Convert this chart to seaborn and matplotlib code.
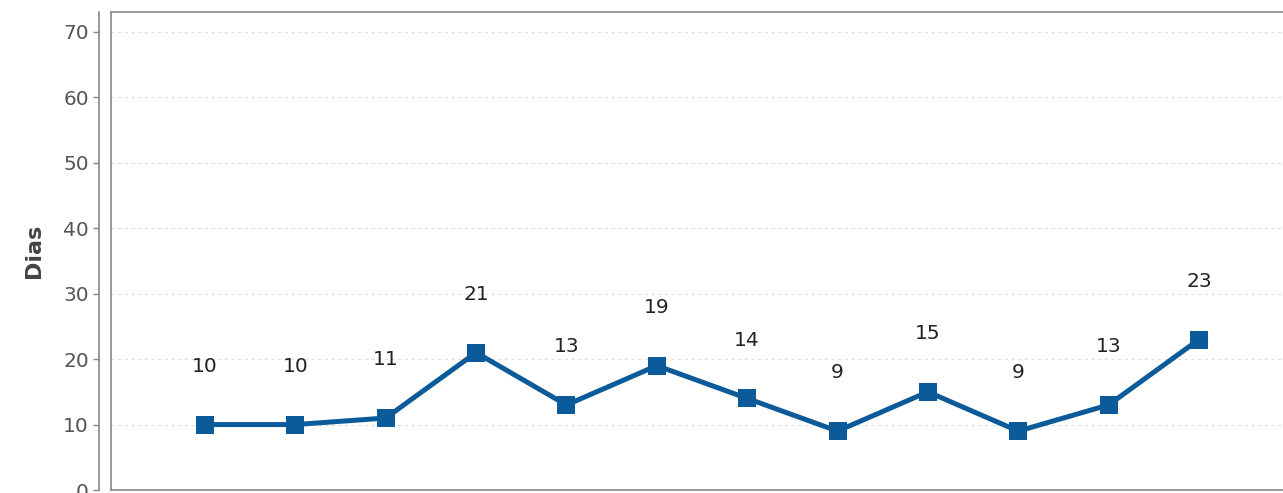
import matplotlib
matplotlib.use('Agg')
import matplotlib.pyplot as plt
import seaborn as sns
import pandas as pd

# values
periods = list(range(12))
dias = [10, 10, 11, 21, 13, 19, 14, 9, 15, 9, 13, 23]
yticks = [0, 10, 20, 30, 40, 50, 60, 70]

sns.set_theme(style="white")
plt.rcParams['font.family'] = ['DejaVu Sans']

df = pd.DataFrame({'periodo': periods, 'dias': dias})

fig = plt.figure(figsize=(12.83, 4.93), dpi=100)
ax = fig.add_axes([111/1283, 3/493, 1 - 111/1283, 478/493])

sns.lineplot(data=df, x='periodo', y='dias', ax=ax, color='#0b5a9a',
             lw=3.6, marker='s', markersize=13, markeredgewidth=0)

for xv, yv in zip(periods, dias):
    ax.annotate(str(yv), (xv, yv), xytext=(0, 42), textcoords='offset points',
                ha='center', va='center', fontsize=14.5, color='#222222')

ax.set_xlim(-1.04, 11.93)
ax.set_ylim(0, 73.05)
ax.set_yticks(yticks)
ax.set_xticks([])
ax.yaxis.grid(True, ls=(0, (3, 3)), color='#dedede', lw=0.8)
ax.set_axisbelow(True)

for s in ['top', 'bottom']:
    ax.spines[s].set_color('#888888')
    ax.spines[s].set_linewidth(1.2)
ax.spines['right'].set_visible(False)
ax.spines['left'].set_position(('outward', 9))
ax.spines['left'].set_color('#888888')
ax.spines['left'].set_linewidth(1.2)
ax.plot([0, 0], [0, 1], transform=ax.transAxes, color='#888888', lw=1.2,
        clip_on=False)

ax.tick_params(axis='y', left=True, length=4, width=1, color='#888888',
               labelsize=14.5, labelcolor='#555555', pad=3)
ax.set_xlabel('')
ax.set_ylabel('Dias', fontsize=16, fontweight='bold', color='#444444', labelpad=14)

fig.savefig('out.png', dpi=100)
